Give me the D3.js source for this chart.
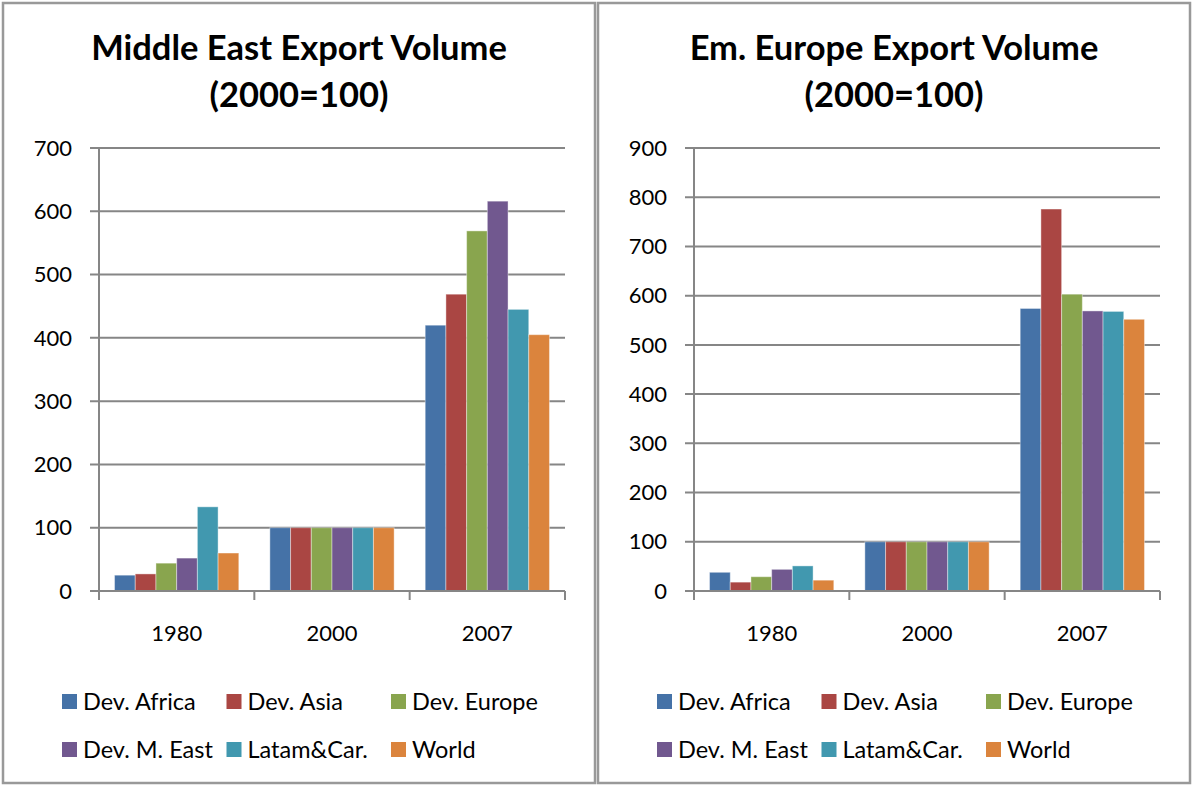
<!DOCTYPE html>
<html>
<head>
<meta charset="utf-8">
<script src="https://cdn.jsdelivr.net/npm/d3@7"></script>
<style>
    body { margin: 0; background: #fff; }
    text { font-family: Lato, "Open Sans", sans-serif; fill: #000; }
</style>
</head>
<body>
<svg id="chart" width="1194" height="786"></svg>
<script>
// Chart data
var years = ["1980", "2000", "2007"];
var seriesNames = ["Dev. Africa", "Dev. Asia", "Dev. Europe", "Dev. M. East", "Latam&Car.", "World"];
var seriesColors = ["#4572A7", "#AA4643", "#89A54E", "#71588F", "#4198AF", "#DB843D"];

// Middle East export volume, one row per year, one value per series
var middleEastValues = [
    [25, 27, 44, 52, 133, 60],
    [100, 100, 100, 100, 100, 100],
    [420, 469, 569, 616, 445, 405]
];
var middleEastTicks = [0, 100, 200, 300, 400, 500, 600, 700];

// Emerging Europe export volume
var emEuropeValues = [
    [38, 18, 29, 44, 51, 22],
    [100, 100, 100, 100, 100, 100],
    [574, 776, 603, 569, 568, 552]
];
var emEuropeTicks = [0, 100, 200, 300, 400, 500, 600, 700, 800, 900];

var svg = d3.select("#chart");

drawPanel(3, ["Middle East Export Volume", "(2000=100)"], middleEastValues, middleEastTicks);
drawPanel(598, ["Em. Europe Export Volume", "(2000=100)"], emEuropeValues, emEuropeTicks);

// Draw one bordered chart panel with its left edge at x0
function drawPanel(x0, titleLines, values, ticks) {
    var g = svg.append("g").attr("transform", "translate(" + x0 + ",0)");

    g.append("rect")
        .attr("x", 0).attr("y", 3)
        .attr("width", 592).attr("height", 780)
        .attr("fill", "#fff")
        .attr("stroke", "#999")
        .attr("stroke-width", 2.5);

    // Title
    g.append("text")
        .attr("x", 296)
        .attr("text-anchor", "middle")
        .attr("font-weight", "bold")
        .attr("font-size", 34.5)
        .selectAll("tspan")
        .data(titleLines)
        .enter().append("tspan")
        .attr("x", 296)
        .attr("y", function(d, i) { return 60 + i * 47; })
        .text(function(d) { return d; });

    var left = 96, right = 562, top = 148, bottom = 591;

    var y = d3.scaleLinear()
        .domain([0, d3.max(ticks)])
        .range([bottom, top]);

    var x0Scale = d3.scaleBand()
        .domain(years)
        .range([left, right]);

    // Excel style 150% gap between groups
    var x1Scale = d3.scaleBand()
        .domain(seriesNames)
        .range([0, x0Scale.bandwidth()])
        .paddingOuter(0.75);

    // Gridlines
    g.append("g")
        .selectAll("line")
        .data(ticks)
        .enter().append("line")
        .attr("x1", left - 9)
        .attr("x2", right)
        .attr("y1", function(d) { return y(d); })
        .attr("y2", function(d) { return y(d); })
        .attr("stroke", "#868686")
        .attr("stroke-width", 2);

    // Y tick labels
    g.append("g")
        .selectAll("text")
        .data(ticks)
        .enter().append("text")
        .attr("x", left - 27)
        .attr("y", function(d) { return y(d); })
        .attr("dy", "0.35em")
        .attr("text-anchor", "end")
        .attr("font-size", 22)
        .text(function(d) { return d; });

    // Bars
    var groups = g.append("g")
        .selectAll("g")
        .data(values)
        .enter().append("g")
        .attr("transform", function(d, i) { return "translate(" + x0Scale(years[i]) + ",0)"; });

    groups.selectAll("rect")
        .data(function(d) { return d; })
        .enter().append("rect")
        .attr("x", function(d, i) { return x1Scale(seriesNames[i]); })
        .attr("y", function(d) { return y(d); })
        .attr("width", x1Scale.bandwidth())
        .attr("height", function(d) { return bottom - y(d); })
        .attr("fill", function(d, i) { return seriesColors[i]; })
        .attr("stroke", "rgba(255,255,255,0.4)")
        .attr("stroke-width", 1);

    // Axis lines
    g.append("line")
        .attr("x1", left).attr("x2", left)
        .attr("y1", top).attr("y2", bottom)
        .attr("stroke", "#868686").attr("stroke-width", 2);
    g.append("line")
        .attr("x1", left).attr("x2", right)
        .attr("y1", bottom).attr("y2", bottom)
        .attr("stroke", "#868686").attr("stroke-width", 2);

    // Category tick marks at the group boundaries
    var boundaries = years.map(function(d) { return x0Scale(d); }).concat([right]);
    g.append("g")
        .selectAll("line")
        .data(boundaries)
        .enter().append("line")
        .attr("x1", function(d) { return d; })
        .attr("x2", function(d) { return d; })
        .attr("y1", bottom)
        .attr("y2", bottom + 9)
        .attr("stroke", "#868686").attr("stroke-width", 2);

    // Category labels
    g.append("g")
        .selectAll("text")
        .data(years)
        .enter().append("text")
        .attr("x", function(d) { return x0Scale(d) + x0Scale.bandwidth() / 2; })
        .attr("y", 641)
        .attr("text-anchor", "middle")
        .attr("font-size", 22)
        .text(function(d) { return d; });

    // Legend, three items per row
    var legend = g.append("g")
        .selectAll("g")
        .data(seriesNames)
        .enter().append("g")
        .attr("transform", function(d, i) {
            return "translate(" + (59 + (i % 3) * 164.5) + "," + (694 + Math.floor(i / 3) * 48) + ")";
        });

    legend.append("rect")
        .attr("width", 15).attr("height", 15)
        .attr("fill", function(d, i) { return seriesColors[i]; });

    legend.append("text")
        .attr("x", 21)
        .attr("y", 16)
        .attr("font-size", 23.5)
        .text(function(d) { return d; });
}
</script>
</body>
</html>
